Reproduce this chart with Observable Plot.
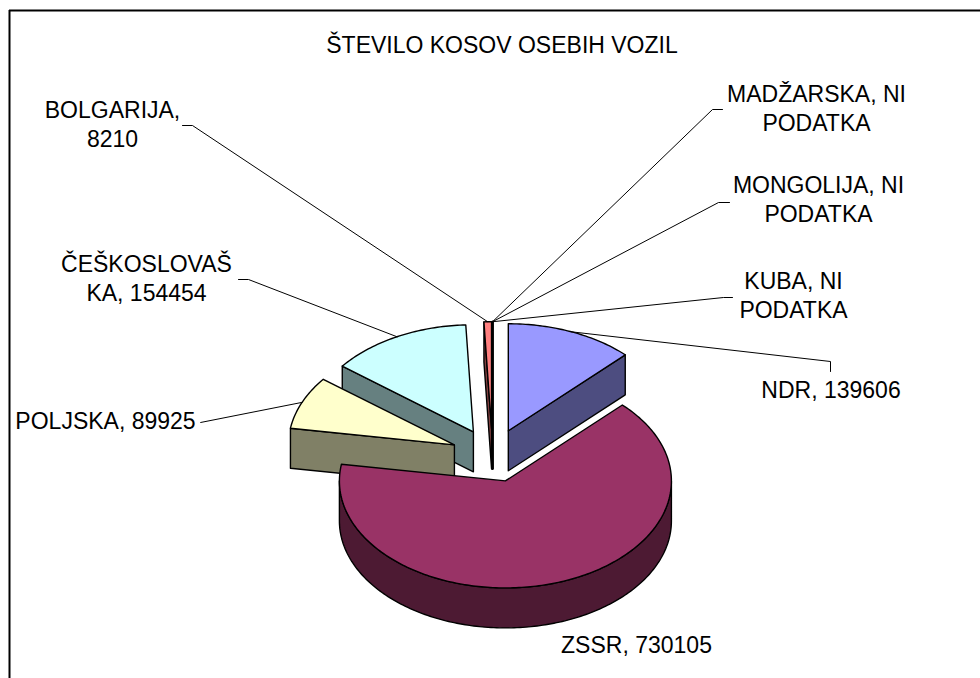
<!DOCTYPE html>
<html><head><meta charset="utf-8">
<script src="https://cdn.jsdelivr.net/npm/d3@7"></script>
<script src="https://cdn.jsdelivr.net/npm/@observablehq/plot@0.6"></script>
<style>body{margin:0;background:#fff} svg{display:block}</style>
</head><body><div id="chart"></div>
<script>
const title = "ŠTEVILO KOSOV OSEBIH VOZIL";
const countries = ["NDR", "ZSSR", "POLJSKA", "ČEŠKOSLOVAŠKA", "BOLGARIJA", "MADŽARSKA", "MONGOLIJA", "KUBA"];
const values = [139606, 730105, 89925, 154454, 8210, 0, 0, 0];
const labelTexts = ["NDR, 139606", "ZSSR, 730105", "POLJSKA, 89925", "ČEŠKOSLOVAŠ\nKA, 154454",
  "BOLGARIJA,\n8210", "MADŽARSKA, NI\nPODATKA", "MONGOLIJA, NI\nPODATKA", "KUBA, NI\nPODATKA"];
const sliceColors = ["#9999FF", "#993366", "#FFFFCC", "#CCFFFF", "#FF8080", "#660066", "#0066CC", "#CCCCFF"];

// ---- layout ----
const W = 980, H = 678;
const FONT = "Arial, 'Liberation Sans', sans-serif";
const FS = 23, LH = 1.29;
const pie = {cx: 492, cy: 455, rx: 166, ry: 107, depth: 40, explode: 0.25};
// label centre x, first-line baseline y, leader stub (two points) or null
const labelLayout = [
  {x: 830.5, y: 397, stub: [[830, 371], [830, 361]]},
  {x: 636, y: 652, stub: null},
  {x: 105, y: 428, stub: [[200, 422], [200, 422]]},
  {x: 146, y: 271, stub: [[238, 279], [248, 279]]},
  {x: 112, y: 117, stub: [[182, 125], [192, 125]]},
  {x: 816, y: 101, stub: [[722, 109], [712, 109]]},
  {x: 818, y: 192, stub: [[729, 202], [718, 202]]},
  {x: 793, y: 288, stub: [[732, 297], [723, 297]]}
];

// ---- geometry from the values ----
const total = d3.sum(values);
let acc = 0;
const slices = countries.map((name, i) => {
  const a = acc / total * 2 * Math.PI; acc += values[i];
  const b = acc / total * 2 * Math.PI;
  const m = (a + b) / 2;
  return {name, i, a, b, m,
    ox: pie.cx + pie.explode * pie.rx * Math.sin(m),
    oy: pie.cy - pie.explode * pie.ry * Math.cos(m)};
});
const rim = (s, t, dz = 0) => [s.ox + pie.rx * Math.sin(t), s.oy - pie.ry * Math.cos(t) + dz];
const arcPts = (s, t0, t1, dz) => {
  const n = Math.max(1, Math.ceil(Math.abs(t1 - t0) / (Math.PI / 180)));
  return d3.range(n + 1).map(k => rim(s, t0 + (t1 - t0) * k / n, dz));
};
const darken = c => { const r = d3.rgb(c); return d3.rgb(r.r / 2, r.g / 2, r.b / 2).formatHex(); };

// painter's order: back slices first
const order = d3.sort(slices, s => -Math.cos(s.m), s => s.i);
const faces = [];
let fid = 0;
const push = (pts, fill, sw) => { const id = fid++; pts.forEach(([x, y]) => faces.push({id, x, y, fill, sw})); };
for (const s of order) {
  const top = sliceColors[s.i], side = darken(top);
  const d = pie.depth, apex = [s.ox, s.oy], apexD = [s.ox, s.oy + d];
  const zero = values[s.i] === 0;
  if (zero) {
    const r = rim(s, s.a);
    push([apex, r, [r[0], r[1] + d], apexD], "#000", 2.2);
    continue;
  }
  if (Math.sin(s.a) < -1e-9) { const r = rim(s, s.a); push([apex, r, [r[0], r[1] + d], apexD], side, 1.4); }
  if (Math.sin(s.b) > 1e-9) { const r = rim(s, s.b); push([apex, r, [r[0], r[1] + d], apexD], side, 1.4); }
  const t0 = Math.max(s.a, Math.PI / 2), t1 = Math.min(s.b, 3 * Math.PI / 2);
  if (t1 > t0) push([...arcPts(s, t0, t1, 0), ...arcPts(s, t1, t0, d)], side, 1.4);
  push([apex, ...arcPts(s, s.a, s.b, 0)], top, 1.4);
}

// leader lines: stub then rim point at the slice's mid angle
const leaders = [];
slices.forEach((s, i) => {
  const L = labelLayout[i];
  if (!L.stub) return;
  [...L.stub, rim(s, s.m)].forEach(([x, y]) => leaders.push({id: i, x, y}));
});

const labels = slices.map((s, i) => {
  const n = labelTexts[i].split("\n").length;
  return {text: labelTexts[i], x: labelLayout[i].x, y: labelLayout[i].y + (n - 1) * LH * FS};
});

const chart = Plot.plot({
  width: W, height: H, margin: 0,
  x: {domain: [0, W], range: [0, W], axis: null},
  y: {domain: [0, H], range: [0, H], axis: null},
  color: {type: "identity"},
  style: {fontFamily: FONT, background: "#fff"},
  marks: [
    Plot.ruleX([9], {y1: 10, y2: H + 20, stroke: "#000", strokeWidth: 2}),
    Plot.ruleY([10], {x1: 9, x2: W + 20, stroke: "#000", strokeWidth: 2}),
    Plot.line(faces, {x: "x", y: "y", z: "id", fill: "fill", stroke: "#000", strokeWidth: "sw",
      curve: "linear-closed", strokeLinejoin: "round"}),
    Plot.line(leaders, {x: "x", y: "y", z: "id", stroke: "#000", strokeWidth: 1}),
    Plot.text(labels, {x: "x", y: "y", text: "text", fontSize: FS, lineHeight: LH,
      textAnchor: "middle", lineAnchor: "bottom", fill: "#000"}),
    Plot.text([title], {x: 501.5, y: 52, text: d => d, fontSize: FS, textAnchor: "middle",
      lineAnchor: "bottom", fill: "#000"})
  ]
});
document.getElementById("chart").appendChild(chart);
</script>
</body></html>
